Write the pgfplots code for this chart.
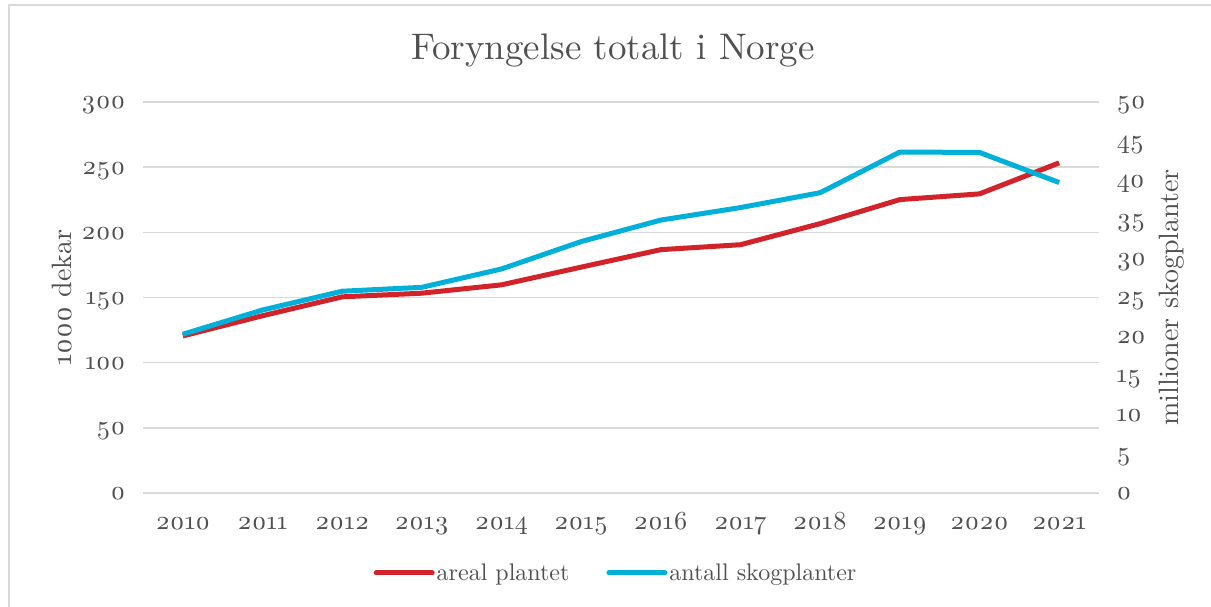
\documentclass[border=0pt]{standalone}
\usepackage{fontspec}
\setmainfont{lmroman10-regular.otf}[Numbers=OldStyle]
\usepackage{pgfplots}
\pgfplotsset{compat=1.18}
\definecolor{redline}{HTML}{D2232A}
\definecolor{blueline}{HTML}{00B0D8}
\definecolor{txt}{HTML}{505050}
\definecolor{gridc}{HTML}{D9D9D9}
\pgfplotstableread{
year areal
2010 120.5
2011 136.0
2012 150.5
2013 153.3
2014 159.7
2015 173.3
2016 186.7
2017 190.5
2018 206.7
2019 225.1
2020 229.5
2021 253.3
}\areal
\pgfplotstableread{
year antall
2010 20.3
2011 23.4
2012 25.8
2013 26.3
2014 28.65
2015 32.15
2016 34.9
2017 36.5
2018 38.4
2019 43.6
2020 43.55
2021 39.7
}\antall
\begin{document}
\begin{tikzpicture}[x=1pt,y=1pt]
\path[use as bounding box] (0,0) rectangle (1211,607);
\draw[gridc, line width=2pt] (9,0) -- (9,602) -- (1211,602);
\node[text=txt, font=\fontsize{37}{42}\selectfont] at (613,557) {Foryngelse totalt i Norge};
\begin{axis}[
 at={(143pt,114pt)}, anchor=south west, scale only axis, width=956pt, height=391pt,
 xmin=2009.5, xmax=2021.5, ymin=0, ymax=300,
 xtick={2010,...,2021}, ytick={0,50,...,300},
 ymajorgrids, grid style={gridc, line width=1.5pt},
 axis line style={draw=none}, major tick length=0pt,
 axis y line*=left, axis x line*=bottom,
 tick label style={font=\fontsize{26}{30}\selectfont, text=txt},
 /pgf/number format/assume math mode=true,
 /pgf/number format/1000 sep={},
 yticklabel style={anchor=base east, xshift=-14pt, yshift=-7pt},
 xticklabel style={anchor=base, yshift=-37pt},
 ylabel={1000 dekar},
 ylabel style={font=\fontsize{28}{32}\selectfont, text=txt, at={(axis description cs:-0.085,0.5)}, anchor=center},
]
\addplot[redline, line width=5pt, line join=round] table[x=year, y=areal] {\areal};
\end{axis}
\begin{axis}[
 at={(143pt,114pt)}, anchor=south west, scale only axis, width=956pt, height=391pt,
 xmin=2009.5, xmax=2021.5, ymin=0, ymax=50,
 ytick={0,5,...,50}, xtick=\empty,
 axis line style={draw=none}, major tick length=0pt,
 axis y line*=right, axis x line=none,
 tick label style={font=\fontsize{26}{30}\selectfont, text=txt},
 /pgf/number format/assume math mode=true,
 yticklabel style={anchor=base west, xshift=14pt, yshift=-7pt},
 ylabel={millioner skogplanter},
 ylabel style={font=\fontsize{28}{32}\selectfont, text=txt, at={(axis description cs:1.0764,0.5)}, anchor=center},
 legend style={at={(axis description cs:0.4948,-0.2046)}, anchor=center, draw=none, fill=none,
   font=\fontsize{24}{28}\selectfont, text=txt, legend columns=2,
   nodes={inner sep=2pt},
   /tikz/every even column/.append style={column sep=35pt}},
 legend cell align=left,
 legend image code/.code={\draw[#1, line cap=round] (0pt,0pt) -- (56pt,0pt);},
]
\addlegendimage{redline, line width=5pt}
\addlegendentry{areal plantet}
\addplot[blueline, line width=5pt, line join=round] table[x=year, y=antall] {\antall};
\addlegendentry{antall skogplanter}
\end{axis}
\end{tikzpicture}
\end{document}
